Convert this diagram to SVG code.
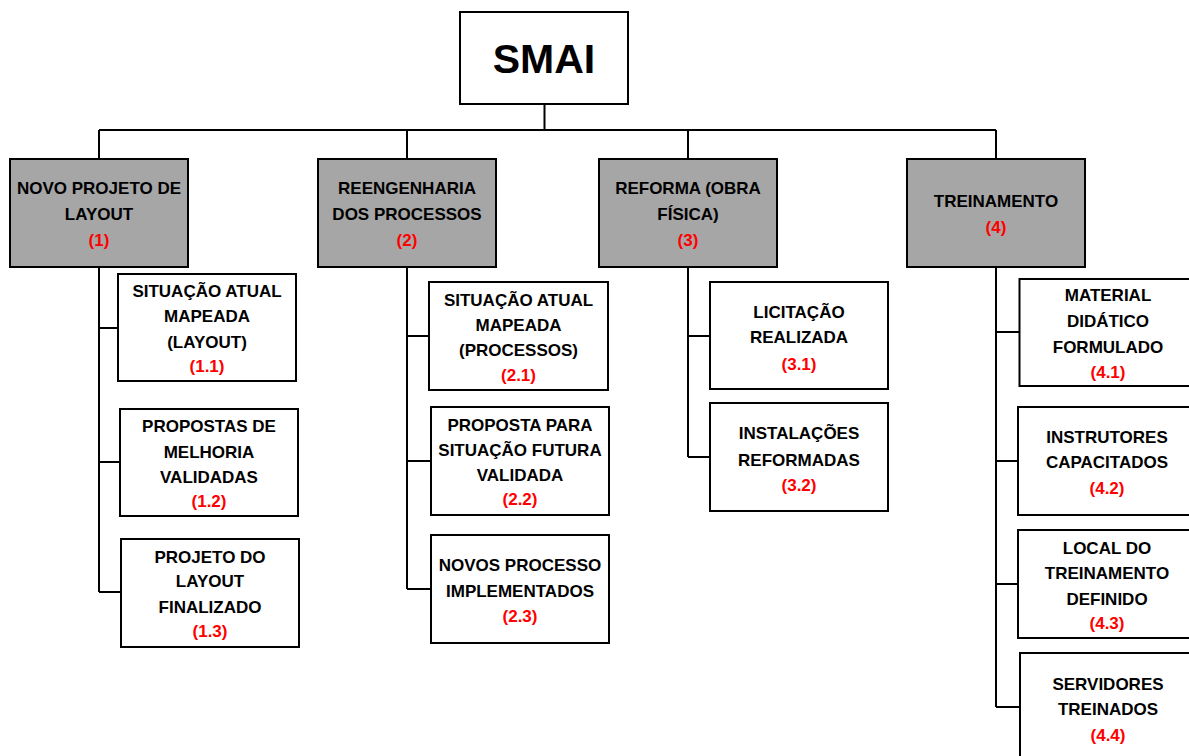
<svg xmlns="http://www.w3.org/2000/svg" width="1189" height="756" viewBox="0 0 1189 756">
<style>
.b{fill:#fff;stroke:#000;stroke-width:2}
.g{fill:#a6a6a6;stroke:#000;stroke-width:2}
text{font-family:"Liberation Sans",Arial,sans-serif;font-weight:bold;font-size:17px;text-anchor:middle;fill:#000}
.r{fill:#ff0000}
.t{font-size:41px}
.c{fill:none;stroke:#000;stroke-width:2}
</style>
<rect width="1189" height="756" fill="#fff"/>
<g id="connectors" class="c">
<path d="M544.5 104V130M99 130H996M99 130V159M407 130V159M688 130V159M996 130V159"/>
<path d="M99 267V592M99 328H118M99 462H120M99 592H121"/>
<path d="M407 267V589M407 336H429M407 461H431M407 589H431"/>
<path d="M688 267V457M688 336H710M688 457H710"/>
<path d="M996 267V707M996 332H1019M996 461H1018M996 584H1018M996 707H1020"/>
</g>
<g id="smai"><rect class="b" x="460" y="12" width="168" height="92"/><text class="t" x="544" y="73">SMAI</text></g>
<g id="n1"><rect class="g" x="10" y="159" width="178" height="108"/><text x="99" y="194">NOVO PROJETO DE</text><text x="99" y="219.5">LAYOUT</text><text class="r" x="99" y="245.5">(1)</text></g>
<g id="n2"><rect class="g" x="318" y="159" width="178" height="108"/><text x="407" y="194">REENGENHARIA</text><text x="407" y="219.5">DOS PROCESSOS</text><text class="r" x="407" y="245.5">(2)</text></g>
<g id="n3"><rect class="g" x="599" y="159" width="178" height="108"/><text x="688" y="194">REFORMA (OBRA</text><text x="688" y="219.5">FÍSICA)</text><text class="r" x="688" y="245.5">(3)</text></g>
<g id="n4"><rect class="g" x="907" y="159" width="178" height="108"/><text x="996" y="206.5">TREINAMENTO</text><text class="r" x="996" y="233">(4)</text></g>
<g id="n11"><rect class="b" x="118" y="274" width="178" height="107"/><text x="207" y="296.5">SITUAÇÃO ATUAL</text><text x="207" y="322">MAPEADA</text><text x="207" y="347.5">(LAYOUT)</text><text class="r" x="207" y="371.5">(1.1)</text></g>
<g id="n12"><rect class="b" x="120" y="409" width="178" height="107"/><text x="209" y="431.5">PROPOSTAS DE</text><text x="209" y="457.5">MELHORIA</text><text x="209" y="483">VALIDADAS</text><text class="r" x="209" y="507">(1.2)</text></g>
<g id="n13"><rect class="b" x="121" y="539" width="178" height="108"/><text x="210" y="562.5">PROJETO DO</text><text x="210" y="587">LAYOUT</text><text x="210" y="613">FINALIZADO</text><text class="r" x="210" y="637">(1.3)</text></g>
<g id="n21"><rect class="b" x="429" y="282" width="179" height="108"/><text x="518.5" y="305.5">SITUAÇÃO ATUAL</text><text x="518.5" y="330.5">MAPEADA</text><text x="518.5" y="355.5">(PROCESSOS)</text><text class="r" x="518.5" y="380.5">(2.1)</text></g>
<g id="n22"><rect class="b" x="431" y="407" width="178" height="108"/><text x="520" y="430.5">PROPOSTA PARA</text><text x="520" y="455.5">SITUAÇÃO FUTURA</text><text x="520" y="480.5">VALIDADA</text><text class="r" x="520" y="505">(2.2)</text></g>
<g id="n23"><rect class="b" x="431" y="535" width="178" height="108"/><text x="520" y="570.5">NOVOS PROCESSO</text><text x="520" y="596.5">IMPLEMENTADOS</text><text class="r" x="520" y="622">(2.3)</text></g>
<g id="n31"><rect class="b" x="710" y="282" width="178" height="107"/><text x="799" y="317.5">LICITAÇÃO</text><text x="799" y="343">REALIZADA</text><text class="r" x="799" y="369.5">(3.1)</text></g>
<g id="n32"><rect class="b" x="710" y="403" width="178" height="108"/><text x="799" y="439">INSTALAÇÕES</text><text x="799" y="465.5">REFORMADAS</text><text class="r" x="799" y="490.5">(3.2)</text></g>
<g id="n41"><rect class="b" x="1019.5" y="279" width="177" height="107"/><text x="1108" y="300.5">MATERIAL</text><text x="1108" y="326.5">DIDÁTICO</text><text x="1108" y="353">FORMULADO</text><text class="r" x="1108" y="377.5">(4.1)</text></g>
<g id="n42"><rect class="b" x="1018" y="407" width="177" height="108"/><text x="1107" y="442.5">INSTRUTORES</text><text x="1107" y="468">CAPACITADOS</text><text class="r" x="1107" y="494">(4.2)</text></g>
<g id="n43"><rect class="b" x="1018" y="530" width="177" height="108"/><text x="1107" y="553.5">LOCAL DO</text><text x="1107" y="579">TREINAMENTO</text><text x="1107" y="605">DEFINIDO</text><text class="r" x="1107" y="629">(4.3)</text></g>
<g id="n44"><rect class="b" x="1020" y="653" width="177" height="108"/><text x="1108" y="689.5">SERVIDORES</text><text x="1108" y="715">TREINADOS</text><text class="r" x="1108" y="740.5">(4.4)</text></g>
</svg>
